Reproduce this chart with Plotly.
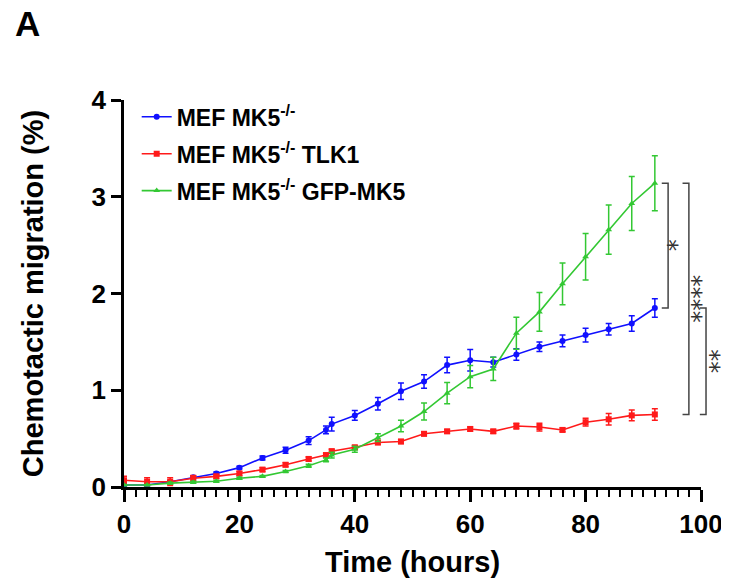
import plotly.graph_objects as go

# ---------------- data ----------------
time_h = [0, 4, 8, 12, 16, 20, 24, 28, 32, 35, 36, 40, 44, 48, 52, 56, 60, 64, 68, 72, 76, 80, 84, 88, 92]

mk5_ko = [0.02, 0.02, 0.055, 0.10, 0.14, 0.20, 0.30, 0.38, 0.48, 0.59, 0.65, 0.74, 0.86, 0.99,
          1.09, 1.26, 1.31, 1.29, 1.37, 1.45, 1.51, 1.57, 1.63, 1.69, 1.85]
mk5_ko_err = [0.01, 0.01, 0.01, 0.015, 0.015, 0.015, 0.02, 0.03, 0.04, 0.04, 0.07, 0.05, 0.065, 0.085,
              0.07, 0.08, 0.11, 0.05, 0.06, 0.05, 0.06, 0.07, 0.06, 0.08, 0.095]

mk5_tlk1 = [0.07, 0.055, 0.055, 0.09, 0.11, 0.14, 0.18, 0.23, 0.29, 0.33, 0.37, 0.41, 0.46, 0.47,
            0.55, 0.575, 0.60, 0.575, 0.63, 0.62, 0.59, 0.67, 0.70, 0.74, 0.75]
mk5_tlk1_err = [0.04, 0.04, 0.04, 0.03, 0.02, 0.02, 0.02, 0.02, 0.02, 0.02, 0.02, 0.02, 0.02, 0.02,
                0.02, 0.02, 0.02, 0.02, 0.03, 0.04, 0.02, 0.04, 0.06, 0.055, 0.06]

mk5_gfp = [0.02, 0.02, 0.04, 0.05, 0.06, 0.09, 0.11, 0.16, 0.22, 0.28, 0.33, 0.39, 0.51, 0.63,
           0.78, 0.97, 1.14, 1.22, 1.59, 1.81, 2.10, 2.38, 2.66, 2.93, 3.14]
mk5_gfp_err = [0.005, 0.005, 0.01, 0.01, 0.01, 0.01, 0.01, 0.01, 0.015, 0.02, 0.03, 0.03, 0.04, 0.06,
               0.087, 0.11, 0.115, 0.12, 0.165, 0.2, 0.215, 0.24, 0.255, 0.28, 0.285]

series_names = ["MEF MK5<sup>-/-</sup>", "MEF MK5<sup>-/-</sup> TLK1", "MEF MK5<sup>-/-</sup> GFP-MK5"]
x_ticks = [0, 20, 40, 60, 80, 100]
y_ticks = [0, 1, 2, 3, 4]
sig_labels = ["*", "****", "**"]

# ---------------- styling ----------------
FONT = "Liberation Sans, Arial, sans-serif"
BLUE, RED, GREEN = "#1010ff", "#ff1a1a", "#33c833"
X_MAX, Y_MAX = 100, 4

fig = go.Figure()
styles = [(BLUE, "circle"), (RED, "square"), (GREEN, "triangle-up")]
for i, (vals, errs) in enumerate([(mk5_ko, mk5_ko_err), (mk5_tlk1, mk5_tlk1_err), (mk5_gfp, mk5_gfp_err)]):
    col, sym = styles[i]
    fig.add_trace(go.Scatter(
        x=time_h, y=vals, name=series_names[i], legendgroup=str(i),
        mode="lines+markers",
        line=dict(color=col, width=1.6),
        marker=dict(color=col, symbol=sym, size=6),
        error_y=dict(type="data", array=errs, visible=True, color=col, thickness=1.5, width=3),
        cliponaxis=False,
    ))

# significance brackets (y positions come from last data points)
last_ko, last_tlk1, last_gfp = mk5_ko[-1], mk5_tlk1[-1], mk5_gfp[-1]
brackets = [
    (last_gfp, last_ko, 0.943, 0.932, 0.958, sig_labels[0]),
    (last_gfp, last_tlk1, 0.979, 0.968, 1.000, sig_labels[1]),
    (last_ko, last_tlk1, 1.0087, 0.998, 1.0312, sig_labels[2]),
]
for top, bot, xv, xt, xlab, lab in brackets:
    yt, yb = top / Y_MAX, bot / Y_MAX
    path = f"M {xt},{yt} L {xv},{yt} L {xv},{yb} L {xt},{yb}"
    fig.add_shape(type="path", path=path, xref="paper", yref="paper",
                  line=dict(color="#444444", width=1.5))
    fig.add_annotation(x=xlab, y=(yt + yb) / 2, xref="paper", yref="paper",
                       text=lab, showarrow=False, textangle=-90,
                       font=dict(family="DejaVu Sans", size=24, color="#333333"),
                       xanchor="center", yanchor="middle")

# panel label
fig.add_annotation(x=-0.168, y=1.1977, xref="paper", yref="paper", text="A", showarrow=False,
                   xanchor="center", yanchor="middle",
                   font=dict(family=FONT, size=35, color="black", weight="bold"))

# page body has an 8px margin, so the figure is smaller and shifted by 8px
fig.update_layout(
    width=721, height=572,
    margin=dict(l=116, r=28, t=92, b=93),
    plot_bgcolor="white", paper_bgcolor="white",
    font=dict(family=FONT, color="black"),
    showlegend=True,
    legend=dict(x=0.022, y=1.012, xanchor="left", yanchor="top",
                bgcolor="rgba(0,0,0,0)", traceorder="grouped", tracegroupgap=4,
                font=dict(family=FONT, size=23, color="black", weight="bold")),
    xaxis=dict(range=[0, X_MAX], tickvals=x_ticks, showgrid=False, zeroline=False,
               showline=True, linecolor="black", linewidth=2.5,
               ticks="outside", ticklen=12, tickwidth=2.5, tickcolor="black",
               minor=dict(dtick=2, ticks="outside", ticklen=7, tickwidth=2, tickcolor="black", showgrid=False),
               tickfont=dict(family=FONT, size=26, color="black", weight="bold"),
               title=dict(text="Time (hours)", standoff=14,
                          font=dict(family=FONT, size=29, color="black", weight="bold")),
               automargin=False),
    yaxis=dict(range=[0, Y_MAX], tickvals=y_ticks, showgrid=False, zeroline=False,
               showline=True, linecolor="black", linewidth=2.5,
               ticks="outside", ticklen=10, tickwidth=2.5, tickcolor="black",
               tickfont=dict(family=FONT, size=26, color="black", weight="bold"),
               title=dict(text="Chemotactic migration (%)", standoff=40,
                          font=dict(family=FONT, size=29, color="black", weight="bold")),
               automargin=False),
)

fig.write_html("out.html")
